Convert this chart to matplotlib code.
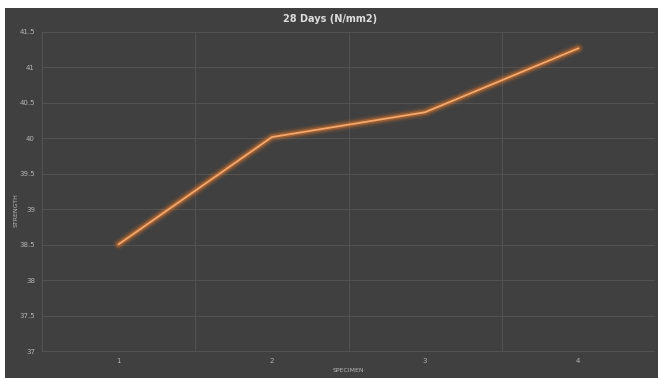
import numpy as np
import matplotlib.pyplot as plt
from matplotlib.patches import Rectangle

# dati
specimens = ["1", "2", "3", "4"]
strength = [38.51, 40.02, 40.37, 41.27]
y_ticks = [37, 37.5, 38, 38.5, 39, 39.5, 40, 40.5, 41, 41.5]

W, H = 658, 378
bg = "#404040"
grid_col = "#525252"
txt_col = "#b5b5b5"

fig = plt.figure(figsize=(W / 100, H / 100), dpi=100)
fig.patch.set_facecolor("white")
# area scura (bordo bianco in alto e a sinistra)
fig.add_artist(Rectangle((5 / W, 0), 1 - 5 / W, 1 - 8 / H,
                         transform=fig.transFigure, facecolor=bg,
                         edgecolor="none", zorder=-5))

ax = fig.add_axes([42 / W, 1 - 351.5 / H, (655 - 42) / W, (351.5 - 32) / H])
ax.set_zorder(2)
ax.set_facecolor(bg)

x = np.arange(1, len(specimens) + 1)

# effetto glow
for lw, a in [(8, 0.10), (5.5, 0.2), (3.5, 0.4)]:
    ax.plot(x, strength, color="#E0772A", lw=lw, alpha=a,
            solid_capstyle="round", solid_joinstyle="round", zorder=3)
ax.plot(x, strength, color="#F3A86E", lw=1.3, solid_capstyle="round",
        solid_joinstyle="round", zorder=4)

ax.set_xlim(0.5, len(specimens) + 0.5)
ax.set_ylim(37, 41.5)
ax.set_yticks(y_ticks)
ax.set_yticklabels([f"{v:g}" for v in y_ticks])
ax.set_xticks(x)
ax.set_xticklabels(specimens)
ax.set_xticks(np.arange(0.5, len(specimens) + 1), minor=True)

ax.grid(True, which="major", axis="y", color=grid_col, lw=0.8)
ax.grid(True, which="minor", axis="x", color=grid_col, lw=0.8)
ax.set_axisbelow(True)
for s in ax.spines.values():
    s.set_visible(False)
ax.tick_params(which="both", length=0, colors=txt_col, labelsize=5)
ax.tick_params(axis="y", pad=5)
ax.tick_params(axis="x", pad=4.5)

fig.text(330 / W, 1 - 19 / H, "28 Days (N/mm2)", ha="center", va="center",
         fontsize=7, fontweight="bold", color="#dddddd")
fig.text(348 / W, 1 - 371 / H, "SPECIMEN", ha="center", va="center",
         fontsize=4.5, color=txt_col)
fig.text(16 / W, 1 - 210 / H, "STRENGTH", ha="center", va="center",
         fontsize=4.5, color=txt_col, rotation=90)

fig.savefig("out.png", dpi=100, facecolor=fig.get_facecolor())
